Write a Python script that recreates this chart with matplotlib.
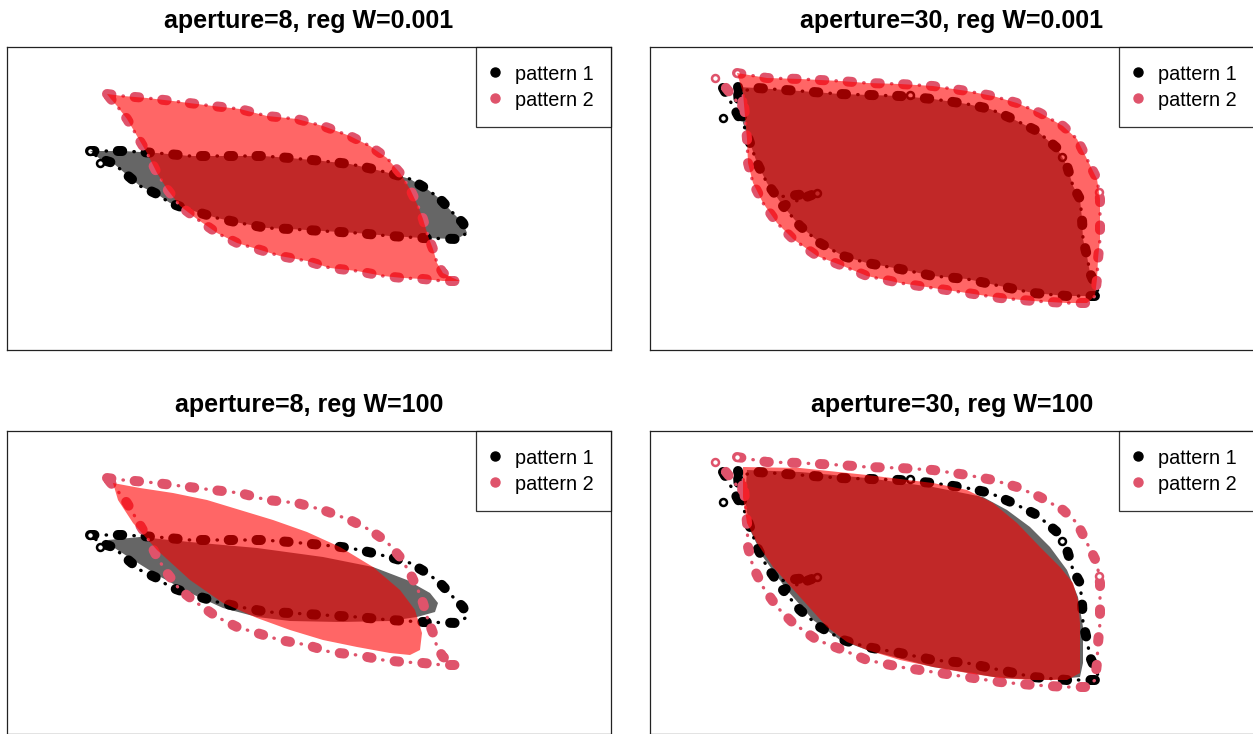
import matplotlib
matplotlib.use("Agg")
import matplotlib.pyplot as plt
from matplotlib.lines import Line2D

plt.rcParams['font.family'] = ['Liberation Sans', 'DejaVu Sans']
plt.rcParams['lines.scale_dashes'] = False

# dotted outlines, aperture 8 (same in both rows)
ap8_p1_x = [83, 116, 150, 183, 226, 256, 283, 316, 343, 366, 386, 403, 420, 433, 446, 456, 460,
            450, 416, 383, 350, 316, 283, 260, 233, 210, 180, 163, 150, 133, 120, 106, 93, 86, 83]
ap8_p1_y = [104, 104, 106, 109, 109, 109, 111, 114, 117, 122, 127, 132, 142, 152, 166, 176, 186,
            192, 191, 189, 186, 184, 182, 181, 176, 171, 162, 156, 147, 139, 128, 116, 112, 106, 104]
ap8_p2_x = [100, 116, 140, 166, 206, 233, 260, 290, 316, 343, 363, 380, 393, 403, 411, 416, 421, 426,
            430, 436, 446, 453, 436, 416, 396, 376, 350, 323, 300, 273, 250, 230, 210, 190, 173, 160,
            150, 140, 130, 120, 110, 103, 100]
ap8_p2_y = [47, 49, 51, 54, 59, 62, 69, 72, 79, 89, 99, 111, 126, 142, 159, 172, 189, 202,
            216, 226, 231, 234, 234, 232, 231, 229, 224, 221, 214, 209, 202, 196, 186, 172, 159, 142,
            126, 106, 89, 72, 59, 51, 47]

# dotted outlines, aperture 30 (same in both rows)
ap30_p1_x = [73, 90, 88, 107, 150, 190, 250, 283, 317, 340, 363, 387, 407, 417, 423, 430, 432, 433,
             437, 440, 447, 450, 417, 383, 350, 317, 283, 250, 217, 193, 170, 150, 133, 167, 127, 117,
             107, 100, 93, 90, 88]
ap30_p1_y = [41, 72, 45, 41, 44, 47, 49, 52, 57, 62, 72, 84, 101, 119, 139, 152, 172, 192,
             209, 226, 242, 249, 249, 246, 239, 232, 229, 222, 216, 209, 196, 179, 159, 146, 150, 136,
             116, 96, 76, 52, 40]
ap30_p2_x = [87, 117, 150, 190, 217, 250, 283, 317, 343, 367, 390, 413, 427, 437, 447, 450, 450, 450,
             448, 447, 445, 437, 417, 383, 350, 317, 283, 250, 217, 193, 167, 143, 127, 113, 103, 98,
             97, 95, 93, 92, 72, 65]
ap30_p2_y = [26, 31, 32, 34, 36, 37, 39, 44, 49, 56, 66, 79, 92, 112, 132, 152, 172, 192,
             212, 232, 249, 256, 256, 254, 251, 246, 241, 236, 229, 219, 209, 192, 176, 156, 136, 116,
             92, 69, 46, 61, 36, 31]

# open circles at a few points
circ8_p1_x = [83, 93]
circ8_p1_y = [104, 116]
circ30_p1_x = [73, 73, 167, 260, 412]
circ30_p1_y = [41, 71, 146, 48, 110]
circ30_p2_x = [65, 87, 449]
circ30_p2_y = [31, 26, 145]

# filled regions, reg W = 0.001, aperture 30
g30_p1_x = [88, 107, 150, 190, 250, 283, 317, 340, 363, 387, 407, 417, 423, 430, 432, 433, 437, 440,
            447, 450, 417, 383, 350, 317, 283, 250, 217, 193, 170, 150, 133, 117, 107, 100, 93, 90]
g30_p1_y = [40, 41, 44, 47, 49, 52, 57, 62, 72, 84, 101, 119, 139, 152, 172, 192, 209, 226,
            242, 249, 249, 246, 239, 232, 229, 222, 216, 209, 196, 179, 159, 136, 116, 96, 76, 52]
g30_p2_x = [87, 117, 150, 190, 217, 250, 283, 317, 343, 367, 390, 413, 427, 437, 447, 450, 450, 450,
            448, 447, 445, 437, 417, 383, 350, 317, 283, 250, 217, 193, 167, 143, 127, 113, 103, 98,
            97, 95, 93]
g30_p2_y = [26, 31, 32, 34, 36, 37, 39, 44, 49, 56, 66, 79, 92, 112, 132, 152, 172, 192,
            212, 232, 249, 256, 256, 254, 251, 246, 241, 236, 229, 219, 209, 192, 176, 156, 136, 116,
            92, 69, 46]

# filled regions, reg W = 100
f8_p1_x = [101, 133, 183, 250, 316, 366, 400, 423, 431, 428, 410, 383, 333, 283, 250, 216, 183, 150,
           123, 106]
f8_p1_y = [109, 106, 111, 117, 126, 136, 149, 162, 172, 181, 186, 190, 191, 190, 186, 177, 162, 144,
           127, 116]
f8_p2_x = [106, 133, 166, 200, 233, 266, 300, 333, 366, 393, 408, 415, 413, 403, 383, 350, 316, 283,
           250, 216, 183, 150, 126, 111]
f8_p2_y = [52, 57, 62, 69, 79, 89, 101, 116, 136, 159, 179, 202, 219, 224, 222, 216, 209, 199,
           187, 172, 149, 119, 92, 69]
f30_p1_x = [97, 150, 217, 283, 333, 357, 380, 400, 417, 428, 433, 433, 430, 400, 350, 283, 217, 190,
            163, 137, 113, 100, 95]
f30_p1_y = [39, 41, 47, 56, 66, 79, 96, 116, 139, 166, 196, 232, 246, 249, 247, 236, 219, 209,
            189, 159, 126, 99, 69]
f30_p2_x = [93, 150, 217, 283, 317, 343, 367, 390, 410, 423, 428, 430, 430, 430, 417, 383, 350, 317,
            283, 250, 217, 197, 177, 150, 123, 107, 97, 93]
f30_p2_y = [36, 37, 44, 52, 59, 72, 92, 116, 136, 152, 169, 192, 219, 242, 249, 249, 247, 242,
            236, 229, 219, 211, 196, 166, 136, 112, 92, 66]

titles = ["aperture=8, reg W=0.001", "aperture=30, reg W=0.001",
          "aperture=8, reg W=100", "aperture=30, reg W=100"]
labels = ['pattern 1', 'pattern 2']
pink = '#DF536B'


def dots(ax, xs, ys, color, z):
    # thick blobs with a small dot between them
    ax.plot(xs, ys, color=color, lw=7.2, linestyle=(0, (3.2, 16.8)),
            dash_capstyle='round', dash_joinstyle='round', zorder=z)
    ax.plot(xs, ys, color=color, lw=2.4, linestyle=(8.4, (0.3, 19.7)),
            dash_capstyle='round', zorder=z)


def circles(ax, xs, ys, color, z):
    ax.plot(xs, ys, 'o', ms=5, mfc='white', mec=color, mew=1.8, linestyle='none', zorder=z)


W, H = 1253, 734
fig = plt.figure(figsize=(W / 100, H / 100), dpi=100)
boxes = [(7, 47), (650, 47), (7, 431), (650, 431)]

panels = [
    (ap8_p1_x, ap8_p1_y, ap8_p2_x, ap8_p2_y, ap8_p1_x, ap8_p1_y, ap8_p2_x, ap8_p2_y, 8),
    (ap30_p1_x, ap30_p1_y, ap30_p2_x, ap30_p2_y, g30_p1_x, g30_p1_y, g30_p2_x, g30_p2_y, 30),
    (ap8_p1_x, ap8_p1_y, ap8_p2_x, ap8_p2_y, f8_p1_x, f8_p1_y, f8_p2_x, f8_p2_y, 8),
    (ap30_p1_x, ap30_p1_y, ap30_p2_x, ap30_p2_y, f30_p1_x, f30_p1_y, f30_p2_x, f30_p2_y, 30),
]

for i, (l, t) in enumerate(boxes):
    ax = fig.add_axes([l / W, (H - t - 303) / H, 604 / W, 303 / H])
    o1x, o1y, o2x, o2y, g1x, g1y, g2x, g2y, ap = panels[i]
    # drawing order: pattern 1 dots, pattern 1 fill, pattern 2 dots, pattern 2 fill
    dots(ax, o1x, o1y, 'black', 1.0)
    if ap == 8:
        circles(ax, circ8_p1_x, circ8_p1_y, 'black', 1.1)
    else:
        circles(ax, circ30_p1_x, circ30_p1_y, 'black', 1.1)
    ax.fill(g1x, g1y, color='black', alpha=0.6, lw=0, zorder=1.2)
    dots(ax, o2x, o2y, pink, 1.3)
    if ap == 30:
        circles(ax, circ30_p2_x, circ30_p2_y, pink, 1.4)
    ax.fill(g2x, g2y, color='red', alpha=0.6, lw=0, zorder=1.5)
    ax.set_xlim(0, 604)
    ax.set_ylim(303, 0)
    ax.set_xticks([])
    ax.set_yticks([])
    for s in ax.spines.values():
        s.set_linewidth(0.9)
        s.set_color('#222222')
    ax.set_title(titles[i], fontsize=18, fontweight='bold', pad=14)
    handles = [Line2D([], [], marker='o', color='black', ms=6.5, linestyle='none'),
               Line2D([], [], marker='o', color=pink, ms=6.5, linestyle='none')]
    leg = ax.legend(handles, labels, loc='upper right', fontsize=14.3,
                    frameon=True, fancybox=False, borderaxespad=0, borderpad=0.85,
                    handlelength=0.2, handleheight=1.0, handletextpad=0.95, labelspacing=0.32)
    leg.get_frame().set_edgecolor('black')
    leg.get_frame().set_linewidth(0.9)
    leg.set_zorder(5)

fig.savefig('out.png', dpi=100)
